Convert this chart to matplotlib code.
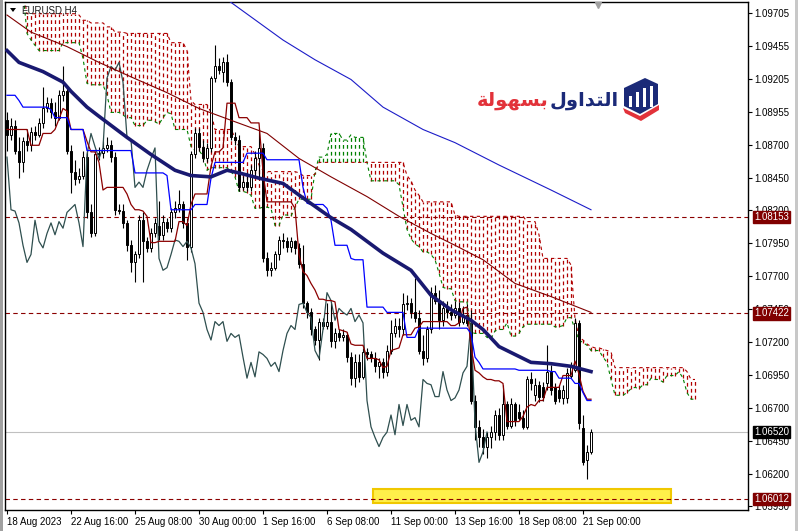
import numpy as np
import matplotlib.pyplot as plt
from matplotlib.patches import Polygon, Rectangle

plt.rcParams['font.family'] = ['Liberation Sans', 'DejaVu Sans']

# EURUSD H4 candles, 18 Aug 2023 .. 21 Sep 2023
opens = [
    1.0889, 1.0878, 1.0885, 1.0866, 1.0857, 1.0873, 1.0870, 1.0880, 1.0878, 1.0887,
    1.0898, 1.0902, 1.0895, 1.0891, 1.0908, 1.0911, 1.0866, 1.0850, 1.0844, 1.0847,
    1.0861, 1.0819, 1.0803, 1.0863, 1.0864, 1.0868, 1.0870, 1.0861, 1.0821, 1.0820,
    1.0811, 1.0794, 1.0781, 1.0787, 1.0813, 1.0797, 1.0792, 1.0803, 1.0809, 1.0802,
    1.0812, 1.0807, 1.0819, 1.0822, 1.0825, 1.0811, 1.0793, 1.0863, 1.0879, 1.0869,
    1.0860, 1.0868, 1.0921, 1.0930, 1.0926, 1.0933, 1.0918, 1.0876, 1.0874, 1.0838,
    1.0842, 1.0838, 1.0851, 1.0860, 1.0868, 1.0784, 1.0775, 1.0777, 1.0787, 1.0798,
    1.0797, 1.0793, 1.0797, 1.0792, 1.0780, 1.0750, 1.0743, 1.0730, 1.0722, 1.0736,
    1.0733, 1.0736, 1.0721, 1.0727, 1.0724, 1.0726, 1.0709, 1.0693, 1.0705, 1.0694,
    1.0713, 1.0711, 1.0708, 1.0702, 1.0705, 1.0698, 1.0714, 1.0727, 1.0733, 1.0730,
    1.0749, 1.0750, 1.0743, 1.0739, 1.0714, 1.0708, 1.0730, 1.0758, 1.0752, 1.0737,
    1.0746, 1.0743, 1.0741, 1.0746, 1.0736, 1.0741, 1.0735, 1.0676, 1.0656, 1.0648,
    1.0641, 1.0648, 1.0652, 1.0665, 1.0650, 1.0673, 1.0657, 1.0673, 1.0667, 1.0663,
    1.0656, 1.0692, 1.0680, 1.0688, 1.0686, 1.0689, 1.0698, 1.0686, 1.0684, 1.0678,
    1.0678, 1.0695, 1.0699, 1.0735, 1.0655, 1.0631, 1.0637]
highs = [
    1.0895, 1.0891, 1.0889, 1.0876, 1.0876, 1.0882, 1.0884, 1.0885, 1.0891, 1.0914,
    1.0907, 1.0906, 1.0903, 1.0912, 1.0930, 1.0914, 1.0870, 1.0859, 1.0853, 1.0866,
    1.0866, 1.0825, 1.0866, 1.0869, 1.0873, 1.0876, 1.0874, 1.0865, 1.0825, 1.0825,
    1.0813, 1.0798, 1.0790, 1.0817, 1.0819, 1.0800, 1.0807, 1.0815, 1.0828, 1.0817,
    1.0815, 1.0822, 1.0828, 1.0836, 1.0828, 1.0815, 1.0866, 1.0883, 1.0883, 1.0874,
    1.0872, 1.0923, 1.0946, 1.0936, 1.0937, 1.0939, 1.0920, 1.0880, 1.0878, 1.0847,
    1.0850, 1.0855, 1.0866, 1.0882, 1.0872, 1.0789, 1.0781, 1.0790, 1.0801, 1.0803,
    1.0800, 1.0800, 1.0798, 1.0796, 1.0794, 1.0752, 1.0746, 1.0733, 1.0739, 1.0739,
    1.0750, 1.0750, 1.0731, 1.0730, 1.0730, 1.0728, 1.0713, 1.0711, 1.0711, 1.0716,
    1.0716, 1.0714, 1.0713, 1.0708, 1.0708, 1.0718, 1.0737, 1.0739, 1.0739, 1.0758,
    1.0756, 1.0754, 1.0769, 1.0745, 1.0726, 1.0733, 1.0762, 1.0764, 1.0760, 1.0752,
    1.0752, 1.0749, 1.0752, 1.0751, 1.0748, 1.0749, 1.0745, 1.0680, 1.0661, 1.0654,
    1.0652, 1.0657, 1.0669, 1.0670, 1.0688, 1.0676, 1.0678, 1.0675, 1.0673, 1.0669,
    1.0695, 1.0698, 1.0693, 1.0691, 1.0690, 1.0718, 1.0703, 1.0689, 1.0688, 1.0688,
    1.0701, 1.0705, 1.0739, 1.0737, 1.0665, 1.0642, 1.0654]
lows = [
    1.0866, 1.0874, 1.0863, 1.0845, 1.0850, 1.0866, 1.0866, 1.0874, 1.0876, 1.0883,
    1.0895, 1.0891, 1.0885, 1.0889, 1.0904, 1.0863, 1.0834, 1.0840, 1.0841, 1.0844,
    1.0815, 1.0800, 1.0801, 1.0859, 1.0860, 1.0865, 1.0857, 1.0817, 1.0818, 1.0807,
    1.0790, 1.0774, 1.0766, 1.0784, 1.0766, 1.0789, 1.0789, 1.0800, 1.0798, 1.0798,
    1.0804, 1.0804, 1.0815, 1.0819, 1.0807, 1.0783, 1.0789, 1.0860, 1.0866, 1.0857,
    1.0857, 1.0865, 1.0918, 1.0924, 1.0918, 1.0915, 1.0874, 1.0870, 1.0835, 1.0836,
    1.0835, 1.0835, 1.0845, 1.0845, 1.0781, 1.0771, 1.0771, 1.0775, 1.0783, 1.0792,
    1.0789, 1.0789, 1.0787, 1.0777, 1.0746, 1.0739, 1.0726, 1.0718, 1.0707, 1.0730,
    1.0730, 1.0717, 1.0716, 1.0721, 1.0721, 1.0705, 1.0688, 1.0686, 1.0690, 1.0692,
    1.0707, 1.0705, 1.0698, 1.0693, 1.0693, 1.0695, 1.0711, 1.0724, 1.0724, 1.0726,
    1.0745, 1.0739, 1.0736, 1.0711, 1.0703, 1.0705, 1.0727, 1.0749, 1.0730, 1.0733,
    1.0739, 1.0737, 1.0739, 1.0733, 1.0734, 1.0733, 1.0673, 1.0646, 1.0641, 1.0635,
    1.0632, 1.0640, 1.0646, 1.0646, 1.0646, 1.0654, 1.0655, 1.0657, 1.0661, 1.0654,
    1.0654, 1.0684, 1.0676, 1.0675, 1.0676, 1.0684, 1.0680, 1.0673, 1.0675, 1.0673,
    1.0674, 1.0693, 1.0698, 1.0654, 1.0627, 1.0616, 1.0635]
closes = [
    1.0878, 1.0885, 1.0866, 1.0857, 1.0873, 1.0870, 1.0880, 1.0878, 1.0887, 1.0898,
    1.0902, 1.0895, 1.0891, 1.0908, 1.0911, 1.0866, 1.0850, 1.0844, 1.0847, 1.0861,
    1.0819, 1.0803, 1.0863, 1.0864, 1.0868, 1.0870, 1.0861, 1.0821, 1.0820, 1.0811,
    1.0794, 1.0781, 1.0787, 1.0813, 1.0797, 1.0792, 1.0803, 1.0811, 1.0802, 1.0812,
    1.0807, 1.0819, 1.0822, 1.0825, 1.0811, 1.0793, 1.0863, 1.0879, 1.0869, 1.0860,
    1.0868, 1.0921, 1.0930, 1.0927, 1.0933, 1.0918, 1.0876, 1.0874, 1.0838, 1.0842,
    1.0838, 1.0851, 1.0860, 1.0868, 1.0784, 1.0775, 1.0777, 1.0787, 1.0798, 1.0797,
    1.0793, 1.0797, 1.0792, 1.0780, 1.0750, 1.0743, 1.0730, 1.0722, 1.0736, 1.0733,
    1.0736, 1.0721, 1.0727, 1.0724, 1.0726, 1.0709, 1.0693, 1.0705, 1.0694, 1.0713,
    1.0711, 1.0708, 1.0702, 1.0705, 1.0698, 1.0714, 1.0727, 1.0733, 1.0730, 1.0749,
    1.0750, 1.0743, 1.0739, 1.0714, 1.0708, 1.0730, 1.0758, 1.0752, 1.0737, 1.0746,
    1.0743, 1.0741, 1.0746, 1.0736, 1.0741, 1.0735, 1.0676, 1.0656, 1.0648, 1.0641,
    1.0648, 1.0652, 1.0665, 1.0650, 1.0673, 1.0657, 1.0673, 1.0661, 1.0663, 1.0656,
    1.0692, 1.0689, 1.0688, 1.0679, 1.0679, 1.0698, 1.0684, 1.0676, 1.0678, 1.0684,
    1.0697, 1.0702, 1.0735, 1.0659, 1.0629, 1.0637, 1.0652]

# ichimoku lines, one value per bar
tenkan = ([1.0882] * 6 + [1.0870] * 3 + [1.0879] * 3 + [1.0882, 1.0890, 1.0898, 1.0896]
          + [1.0882] * 4 + [1.0873] + [1.0865] * 2 + [1.0857, 1.0836] + [1.0838] * 5
          + [1.0833, 1.0825] + [1.0821] * 2 + [1.0820, 1.0816] + [1.0796] * 2 + [1.0797] * 5
          + [1.0812] * 2 + [1.0809, 1.0825] + [1.0833] * 4 + [1.0854] + [1.0865] * 2 + [1.0868]
          + [1.0902] * 3 + [1.0891] * 3 + [1.0887] * 3 + [1.0850] + [1.0827] * 7
          + [1.0822, 1.0787, 1.0774, 1.0771, 1.0765, 1.0760] + [1.0753] * 2
          + [1.0752, 1.0752, 1.0751, 1.0730, 1.0729, 1.0728, 1.0719] + [1.0718] * 3 + [1.0708] * 3
          + [1.0707, 1.0701, 1.0702, 1.0714, 1.0715, 1.0716] + [1.0726] * 3 + [1.0731, 1.0732]
          + [1.0736] * 7 + [1.0733] * 2
          + [1.0735, 1.0746, 1.0747, 1.0717, 1.0699, 1.0697, 1.0694, 1.0692, 1.0692]
          + [1.0691] * 2 + [1.0689] + [1.0660] * 4 + [1.0664, 1.0671, 1.0673, 1.0672]
          + [1.0676] * 2 + [1.0686] * 4 + [1.0695] * 3 + [1.0706, 1.0696, 1.0683] + [1.0677] * 2)
kijun = ([1.0908] * 3 + [1.0904] + [1.0899] * 7 + [1.0897] + [1.0891] * 4 + [1.0882] * 4
         + [1.0866] * 12 + [1.0849] * 8 + [1.0847] + [1.0821] * 6 + [1.0825] * 4 + [1.0845]
         + [1.0857] * 8 + [1.0864] * 5 + [1.0859] * 9 + [1.0838, 1.0826] + [1.0825] * 4
         + [1.0822, 1.0813] + [1.0794] * 4 + [1.0784] + [1.0783] * 3 + [1.0747] * 5
         + [1.0743] * 5 + [1.0724] * 3 + [1.0731] * 13 + [1.0727, 1.0709, 1.0705]
         + [1.0700] * 9 + [1.0699] * 8 + [1.0698] * 2 + [1.0693] * 4 + [1.0689] * 2
         + [1.0682] + [1.0676] * 2)

# cloud, shifted 26 bars ahead (173 values)
span_a = ([1.0987] * 5 + [1.0955, 1.0950, 1.0946] + [1.0942] * 6 + [1.0948] * 5
          + [1.0936, 1.0917] + [1.0916] * 4 + [1.0908] + [1.0895] * 3 + [1.0893]
          + [1.0891] * 2 + [1.0885] * 3 + [1.0889] * 2 + [1.0888, 1.0886, 1.0891, 1.0895, 1.0894]
          + [1.0882] * 4 + [1.0869] + [1.0866] * 2 + [1.0862, 1.0851] + [1.0853] * 5
          + [1.0850, 1.0846] + [1.0835] * 2 + [1.0834, 1.0832] + [1.0822] * 2 + [1.0823] * 2
          + [1.0822] + [1.0809] * 2 + [1.0817] * 2 + [1.0816, 1.0823] + [1.0829] * 4
          + [1.0850] + [1.0861] * 2 + [1.0863] + [1.0879] * 3 + [1.0874] * 2 + [1.0878]
          + [1.0876] * 3 + [1.0857] + [1.0843] * 7
          + [1.0840, 1.0823, 1.0806, 1.0799, 1.0795, 1.0793] + [1.0789] * 2
          + [1.0787, 1.0783, 1.0773, 1.0762, 1.0761, 1.0761, 1.0752] + [1.0751] * 3
          + [1.0728] + [1.0727] * 3 + [1.0724, 1.0723, 1.0729, 1.0730, 1.0730, 1.0735]
          + [1.0725] * 2 + [1.0727, 1.0732] + [1.0734] * 7 + [1.0732] * 2
          + [1.0733, 1.0739, 1.0739, 1.0730, 1.0722, 1.0720, 1.0718] + [1.0714] * 3
          + [1.0709, 1.0705, 1.0692] + [1.0680] * 3 + [1.0682, 1.0685, 1.0686, 1.0685]
          + [1.0688] * 2 + [1.0693] + [1.0692] * 2 + [1.0690] + [1.0695] * 3
          + [1.0698, 1.0693, 1.0682] + [1.0677] * 2)
span_b = ([1.0987] * 5 + [1.0970] * 13 + [1.0969] + [1.0965] * 2 + [1.0963] * 4
          + [1.0960] * 2 + [1.0956] * 3 + [1.0955] * 11 + [1.0948] * 4 + [1.0942, 1.0904]
          + [1.0901] * 4 + [1.0895] + [1.0882] * 5 + [1.0876] + [1.0869] * 4
          + [1.0863, 1.0855, 1.0851] + [1.0850] * 8 + [1.0849] + [1.0847] * 3 + [1.0848]
          + [1.0857] * 22 + [1.0847, 1.0843, 1.0836, 1.0832] + [1.0827] * 8 + [1.0817]
          + [1.0816] * 17 + [1.0812] * 3 + [1.0802] + [1.0784] * 7
          + [1.0779, 1.0738, 1.0724, 1.0722, 1.0719, 1.0717] + [1.0716] * 2
          + [1.0715, 1.0714, 1.0713] + [1.0701] * 18 + [1.0698] + [1.0692] * 2)

# moving averages, read at a few bars
ma_navy_idx = [0, 3, 9, 14, 16, 20, 23, 30, 36, 42, 46, 51, 55, 58, 63, 69, 74, 81, 86,
               94, 101, 106, 111, 116, 119, 123, 127, 131, 136, 141, 146]
ma_navy = [1.0942, 1.0933, 1.0926, 1.0918, 1.0911, 1.0899, 1.0892, 1.0876, 1.0863, 1.0851,
           1.0847, 1.0846, 1.0851, 1.0849, 1.0845, 1.0841, 1.0830, 1.0815, 1.0806, 1.0788,
           1.0775, 1.0756, 1.0745, 1.0737, 1.0730, 1.0717, 1.0711, 1.0705, 1.0704, 1.0702,
           1.0698]
ma_red_idx = [0, 6, 15, 23, 31, 40, 48, 56, 65, 73, 81, 90, 98, 106, 112, 119, 127, 136, 141, 146]
ma_red = [1.0969, 1.0956, 1.0945, 1.0933, 1.0922, 1.0910, 1.0898, 1.0889, 1.0879, 1.0860,
          1.0846, 1.0831, 1.0816, 1.0803, 1.0794, 1.0783, 1.0765, 1.0755, 1.0749, 1.0743]
ma_blue_idx = [54, 69, 77, 86, 94, 104, 112, 123, 136, 146]
ma_blue = [1.0983, 1.0950, 1.0935, 1.0920, 1.0899, 1.0882, 1.0872, 1.0855, 1.0836, 1.0821]

levels = [1.08153, 1.07422, 1.06012]
last_price = 1.06520

price_ticks = [1.09705, 1.09455, 1.09205, 1.08955, 1.08705, 1.08455, 1.08205, 1.07955,
               1.07705, 1.07455, 1.07205, 1.06955, 1.06705, 1.06455, 1.06205, 1.05955]
price_labels = ['1.09705', '1.09455', '1.09205', '1.08955', '1.08700', '1.08450', '1.08200',
                '1.07950', '1.07700', '1.07450', '1.07200', '1.06950', '1.06700', '1.06450',
                '1.06200', '1.05950']
date_idx = [0, 16, 32, 48, 64, 80, 96, 112, 128, 144]
date_labels = ['18 Aug 2023', '22 Aug 16:00', '25 Aug 08:00', '30 Aug 00:00', '1 Sep 16:00',
               '6 Sep 08:00', '11 Sep 00:00', '13 Sep 16:00', '18 Sep 08:00', '21 Sep 00:00']

# yellow zone
zone_from, zone_to = 91.5, 166
zone_low, zone_high = 1.0598, 1.0609

MAROON = '#8b0000'
HATCH_RED = '#b00000'
GREEN = '#008000'

W, H = 798, 531
fig = plt.figure(figsize=(W / 100, H / 100), dpi=100)
ax = fig.add_axes([5 / W, 21 / H, 743 / W, 508 / H])
ax.set_xlim(-0.5, 185.25)
ax.set_ylim(1.05928, 1.09789)


def px(x, y):
    return (x / W, 1 - y / H)


# cloud hatch: one dotted column per bar between the two spans
for j, (a, b) in enumerate(zip(span_a, span_b)):
    col = GREEN if a > b else HATCH_RED
    ax.plot([j, j], [min(a, b), max(a, b)], color=col, lw=0.9,
            ls=(0, (3, 2.5)), zorder=1, solid_capstyle='butt', dash_capstyle='butt')
ax.plot(range(len(span_a)), span_a, color=GREEN, lw=0.8, ls=(0, (3, 3)), zorder=1.5)
ax.plot(range(len(span_b)), span_b, color=HATCH_RED, lw=0.8, ls=(0, (3, 3)), zorder=1.5)

# zone + horizontal lines
ax.add_patch(Rectangle((zone_from, zone_low), zone_to - zone_from, zone_high - zone_low,
                       fc='#fff04a', ec='#f0c800', lw=1.5, zorder=1.8))
ax.axhline(last_price, color='#c0c0c0', lw=0.8, zorder=2.4)
for lv in levels:
    ax.axhline(lv, color=MAROON, lw=0.8, ls=(0, (4, 3)), zorder=2.5)

# candles
o = np.array(opens)
c = np.array(closes)
h = np.array(highs)
l = np.array(lows)
idx = np.arange(len(c))
up = c >= o
ax.vlines(idx, l, h, color='black', lw=0.8, zorder=3)
ax.bar(idx, np.maximum(np.abs(c - o), 0.00004), bottom=np.minimum(o, c), width=0.7,
       color=np.where(up, 'white', 'black'), edgecolor='black', linewidth=0.7, zorder=3.2)

# indicators
ax.plot(idx[:len(c) - 26], c[26:], color='#2f4f4f', lw=0.9, zorder=4)
ax.plot(idx, tenkan, color=MAROON, lw=0.9, zorder=4)
ax.plot(idx, kijun, color='#0000ff', lw=0.9, zorder=4)
ax.plot(ma_red_idx, ma_red, color='#800000', lw=0.8, zorder=4)
ax.plot(ma_blue_idx, ma_blue, color='#1c1cc8', lw=0.8, zorder=4)
ax.plot(ma_navy_idx, ma_navy, color='#191970', lw=2.6, zorder=4.2)

# axes styling
for s in ax.spines.values():
    s.set_color('black')
    s.set_linewidth(1)
ax.yaxis.tick_right()
ax.set_yticks(price_ticks)
ax.set_yticklabels(price_labels)
ax.tick_params(axis='y', length=3, width=0.8, pad=1.5, labelsize=7, colors='black')
ax.set_xticks(date_idx)
ax.set_xticklabels(date_labels)
for t in ax.get_xticklabels():
    t.set_ha('left')
ax.tick_params(axis='x', length=3, width=0.8, pad=2, labelsize=7, colors='black')

# price tags on the right (they sit over the axis labels, as in the terminal)
for lv in levels:
    ax.annotate(f'{lv:.5f}', xy=(1, lv), xycoords=('axes fraction', 'data'),
                xytext=(6, 0), textcoords='offset pixels', ha='left', va='center',
                fontsize=7, color='white', annotation_clip=False, zorder=10,
                bbox=dict(boxstyle='square,pad=0.12', fc='#800000', ec='#800000'))
ax.annotate(f'{last_price:.5f}', xy=(1, last_price), xycoords=('axes fraction', 'data'),
            xytext=(6, 0), textcoords='offset pixels', ha='left', va='center',
            fontsize=7, color='white', annotation_clip=False, zorder=10,
            bbox=dict(boxstyle='square,pad=0.12', fc='black', ec='black'))

# chart shift marker
ax.plot([147.75], [1.09766], marker='v', ms=5, color='#a0a0a0', clip_on=False, zorder=5)

# window edges
fig.add_artist(Rectangle((0, 0), 3 / W, 1, transform=fig.transFigure, fc='#a0a0a0', ec='none'))
fig.add_artist(Rectangle((795 / W, 0), 3 / W, 1, transform=fig.transFigure, fc='#c8c8c8', ec='none'))

# symbol label
fig.add_artist(Polygon([px(10, 8), px(16, 8), px(13, 12)], closed=True,
                       transform=fig.transFigure, fc='black', ec='none'))
fig.text(*px(21, 10.5), 'EURUSD,H4', fontsize=7, va='center', ha='left', color='#1a1a1a')

# logo
red_word = '\ufe94\ufedf\ufeee\ufeec\ufeb4\ufe91'
blue_word = '\ufedd\ufeed\ufe8d\ufeaa\ufe98\ufedf\ufe8d'
fig.text(*px(548, 100), red_word, color='#e2323a', fontsize=14, fontweight='bold',
         ha='right', va='center', family=['DejaVu Sans'])
fig.text(*px(619, 100), blue_word, color='#1b2a78', fontsize=14, fontweight='bold',
         ha='right', va='center', family=['DejaVu Sans'])
fig.add_artist(Polygon([px(624, 88), px(645, 78), px(658, 84), px(658, 104), px(640, 114), px(624, 106)],
                       closed=True, transform=fig.transFigure, fc='#1b2a78', ec='none'))
for bx, top in [(629, 96), (636, 92), (643, 88), (650, 86)]:
    fig.add_artist(Rectangle(px(bx, 107), 3 / W, (107 - top) / H, transform=fig.transFigure,
                             fc='white', ec='none'))
fig.add_artist(Polygon([px(623, 108), px(640, 116), px(659, 105), px(659, 110), px(641, 121), px(625, 113)],
                       closed=True, transform=fig.transFigure, fc='#e2323a', ec='none'))

fig.savefig('out.png', dpi=100)
